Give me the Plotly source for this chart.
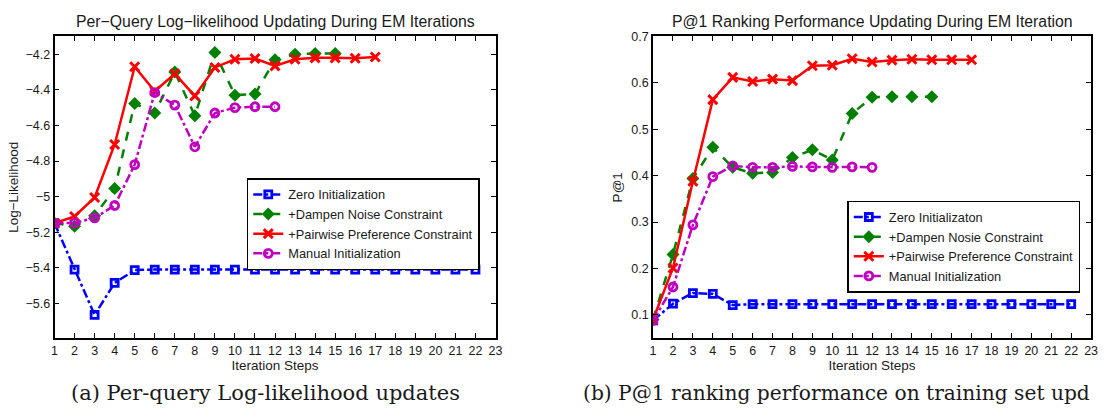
import plotly.graph_objects as go

# ---------------- data ----------------
iters = list(range(1, 23))

# (a) Per-query log-likelihood
ll_zero = [-5.15, -5.41, -5.665, -5.485, -5.413, -5.41, -5.41, -5.41, -5.41, -5.41, -5.41,
           -5.41, -5.41, -5.41, -5.41, -5.41, -5.41, -5.41, -5.41, -5.41, -5.41, -5.41]
ll_dampen = [-5.15, -5.167, -5.108, -4.955, -4.476, -4.53, -4.30, -4.546, -4.19, -4.43,
             -4.423, -4.23, -4.20, -4.195, -4.195]
ll_pairwise = [-5.15, -5.112, -5.005, -4.707, -4.27, -4.408, -4.31, -4.434, -4.274, -4.228,
               -4.224, -4.265, -4.228, -4.22, -4.22, -4.222, -4.215]
ll_manual = [-5.15, -5.148, -5.12, -5.05, -4.82, -4.415, -4.486, -4.72, -4.53, -4.50,
             -4.495, -4.495]

# (b) P@1 ranking performance
p1_zero = [0.088, 0.124, 0.147, 0.145, 0.121, 0.123, 0.123, 0.123, 0.123, 0.123, 0.123,
           0.123, 0.123, 0.123, 0.123, 0.123, 0.123, 0.123, 0.123, 0.123, 0.123, 0.123]
p1_dampen = [0.09, 0.23, 0.394, 0.461, 0.418, 0.405, 0.407, 0.439, 0.456, 0.434, 0.534,
             0.569, 0.57, 0.57, 0.57]
p1_pairwise = [0.09, 0.201, 0.388, 0.564, 0.612, 0.603, 0.608, 0.605, 0.637, 0.638, 0.652,
               0.645, 0.649, 0.651, 0.65, 0.65, 0.65]
p1_manual = [0.088, 0.16, 0.294, 0.398, 0.421, 0.418, 0.418, 0.42, 0.419, 0.418, 0.419, 0.418]

names_a = ["Zero Initialization", "+Dampen Noise Constraint",
           "+Pairwise Preference Constraint", "Manual Initialization"]
names_b = ["Zero Initializaton", "+Dampen Nosie Constraint",
           "+Pairwise Preference Constraint", "Manual Initialization"]

ll_ticks = [-5.6, -5.4, -5.2, -5.0, -4.8, -4.6, -4.4, -4.2]
p1_ticks = [0.1, 0.2, 0.3, 0.4, 0.5, 0.6, 0.7]
x_ticks = list(range(1, 24))

title_a = "Per\u2212Query Log\u2212likelihood Updating During EM Iterations"
title_b = "P@1 Ranking Performance Updating During EM Iteration"
ylab_a = "Log\u2212Likelihood"
ylab_b = "P@1"
xlab = "Iteration Steps"
cap_a = "(a) Per-query Log-likelihood updates"
cap_b = "(b) P@1 ranking performance on training set upd"

# ---------------- styles ----------------
BLUE, GREEN, RED, MAG = "#0000FF", "#008000", "#FF0000", "#C000C0"
styles = [
    dict(line=dict(color=BLUE, width=2.5, dash="dashdot"),
         marker=dict(symbol="square-open", size=7, color=BLUE, line=dict(width=2.8, color=BLUE))),
    dict(line=dict(color=GREEN, width=2.5, dash="dash"),
         marker=dict(symbol="diamond", size=10, color=GREEN, line=dict(width=0))),
    dict(line=dict(color=RED, width=2.5, dash="solid"),
         marker=dict(symbol="x-thin-open", size=9, color=RED, line=dict(width=3, color=RED))),
    dict(line=dict(color=MAG, width=2.5, dash="dashdot"),
         marker=dict(symbol="circle-open", size=8, color=MAG, line=dict(width=2.8, color=MAG))),
]

FONT = "Liberation Sans"
TXT = "#1a1a1a"
fig = go.Figure()

series_a = [ll_zero, ll_dampen, ll_pairwise, ll_manual]
series_b = [p1_zero, p1_dampen, p1_pairwise, p1_manual]

for vals, name, st in zip(series_a, names_a, styles):
    fig.add_trace(go.Scatter(x=iters[:len(vals)], y=vals, name=name, mode="lines+markers",
                             xaxis="x", yaxis="y", legend="legend", **st))
for vals, name, st in zip(series_b, names_b, styles):
    fig.add_trace(go.Scatter(x=iters[:len(vals)], y=vals, name=name, mode="lines+markers",
                             xaxis="x2", yaxis="y2", legend="legend2", **st))

W, H = 1108, 416
def px_x(p):
    return p / W
def px_y(p):
    return 1 - p / H

axis_common = dict(showline=True, linecolor="black", linewidth=1.8, mirror="allticks",
                   ticks="inside", ticklen=5, tickwidth=1, tickcolor="black",
                   showgrid=False, zeroline=False,
                   tickfont=dict(family=FONT, size=12.5, color=TXT))

y_dom = [px_y(336.7), px_y(30)]
LEG_FONT = 12.8

fig.update_layout(
    width=W, height=H, margin=dict(l=0, r=0, t=0, b=0),
    paper_bgcolor="white", plot_bgcolor="white",
    font=dict(family=FONT, size=12, color=TXT),
    xaxis=dict(domain=[px_x(52), px_x(497)], range=[1, 23], tickvals=x_ticks,
               anchor="y", title=dict(text=xlab, standoff=0, font=dict(size=13.5)), **axis_common),
    yaxis=dict(domain=y_dom, range=[-5.795, -4.1], tickvals=ll_ticks, anchor="x",
               title=dict(text=ylab_a, standoff=4, font=dict(size=13.5)), **axis_common),
    xaxis2=dict(domain=[px_x(656), px_x(1098)], range=[1, 23], tickvals=x_ticks,
                anchor="y2", title=dict(text=xlab, standoff=0, font=dict(size=13.5)), **axis_common),
    yaxis2=dict(domain=y_dom, range=[0.05, 0.7], tickvals=p1_ticks, anchor="x2",
                title=dict(text=ylab_b, standoff=6, font=dict(size=13.5)), **axis_common),
    legend=dict(x=px_x(246), y=px_y(174), xanchor="left", yanchor="top",
                bgcolor="white", bordercolor="black", borderwidth=1.5,
                font=dict(family=FONT, size=LEG_FONT, color=TXT), tracegroupgap=0,
                itemwidth=30),
    legend2=dict(x=px_x(852), y=px_y(197), xanchor="left", yanchor="top",
                 bgcolor="white", bordercolor="black", borderwidth=1.5,
                 font=dict(family=FONT, size=LEG_FONT, color=TXT), tracegroupgap=0,
                 itemwidth=30),
    showlegend=True,
    annotations=[
        dict(text=title_a, x=(px_x(52) + px_x(497)) / 2, y=px_y(15), xref="paper", yref="paper",
             xanchor="center", yanchor="middle", showarrow=False,
             font=dict(family=FONT, size=15.8, color=TXT)),
        dict(text=title_b, x=(px_x(656) + px_x(1098)) / 2, y=px_y(15), xref="paper", yref="paper",
             xanchor="center", yanchor="middle", showarrow=False,
             font=dict(family=FONT, size=15.8, color=TXT)),
        dict(text=cap_a, x=px_x(67), y=px_y(393), xref="paper", yref="paper",
             xanchor="left", yanchor="middle", showarrow=False,
             font=dict(family="DejaVu Serif", size=21, color=TXT)),
        dict(text=cap_b, x=px_x(583), y=px_y(393), xref="paper", yref="paper",
             xanchor="left", yanchor="middle", showarrow=False,
             font=dict(family="DejaVu Serif", size=20.2, color=TXT)),
    ],
)

fig.write_html("out.html", config={"displayModeBar": False},
               post_script="document.body.style.margin='0';")
